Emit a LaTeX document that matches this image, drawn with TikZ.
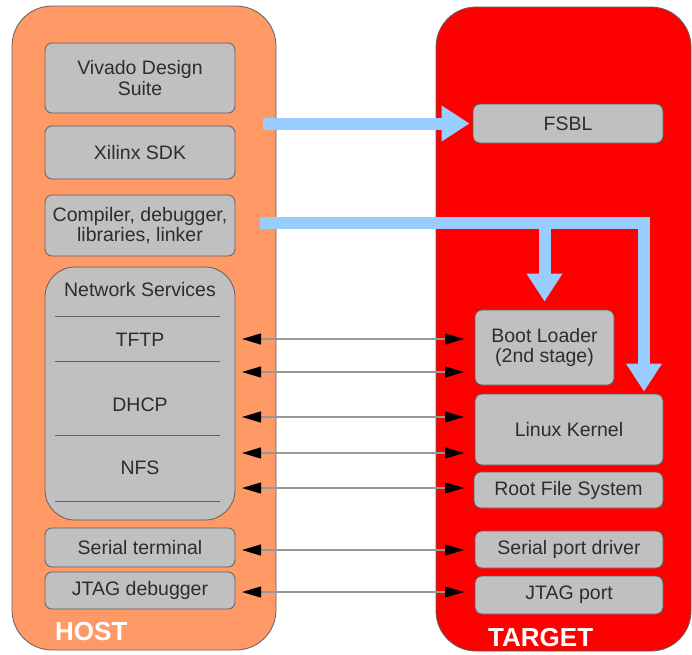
\documentclass[tikz,border=0pt]{standalone}
\usepackage{fontspec}
\setmainfont{Liberation Sans}
\usetikzlibrary{arrows.meta}
\definecolor{hostorange}{RGB}{255,153,102}
\definecolor{targetred}{RGB}{255,0,0}
\definecolor{boxgray}{RGB}{192,192,192}
\definecolor{edgegray}{RGB}{95,95,95}
\definecolor{flowblue}{RGB}{153,204,255}
\definecolor{labelgray}{RGB}{45,45,45}
\definecolor{linkgray}{RGB}{150,150,150}

\begin{document}
\begin{tikzpicture}[x=1pt,y=-1pt,
  every node/.style={font=\fontsize{19.5}{20.5}\selectfont, text=labelgray, inner sep=0pt, align=center},
  panel/.style={draw=edgegray, line width=0.8pt, rounded corners=40pt},
  block/.style={draw=edgegray, fill=boxgray, line width=0.8pt, rounded corners=7pt},
  sidelabel/.style={font=\bfseries\fontsize{26}{26}\selectfont, text=white, anchor=west},
  divider/.style={draw=edgegray, line width=0.8pt},
  flow/.style={draw=flowblue, line width=12pt, line join=miter,
    -{Triangle[length=28pt,width=34pt,color=flowblue]}},
  link/.style={draw=linkgray, line width=1.2pt,
    {Triangle[length=19pt,width=11pt,color=black]}-{Triangle[length=19pt,width=11pt,color=black]}}
]
\useasboundingbox (0,0) rectangle (692,654);

% host and target panels
\node[panel, fill=hostorange, minimum width=264, minimum height=644] (host) at (144,328) {};
\node[panel, fill=targetred, minimum width=255, minimum height=644] (target) at (563.5,329) {};
\node[sidelabel] (hostlbl) at (55,632) {HOST};
\node[sidelabel] (targetlbl) at (488,638) {TARGET};

% host tools
\node[block, minimum width=190, minimum height=70] (vivado) at (140,78) {Vivado Design\\Suite};
\node[block, minimum width=190, minimum height=53] (sdk) at (140,152.5) {Xilinx SDK};
\node[block, minimum width=190, minimum height=61] (comp) at (140,225.5) {Compiler, debugger,\\libraries, linker};
\node[block, rounded corners=30pt, minimum width=190, minimum height=253] (net) at (140,393.5) {};
\node (netlbl) at (140,290) {Network Services};
\node (tftp) at (140,340) {TFTP};
\node (dhcp) at (140,405) {DHCP};
\node (nfs) at (140,468) {NFS};
\draw[divider] (55,316) -- (220,316);
\draw[divider] (55,361) -- (220,361);
\draw[divider] (55,435) -- (220,435);
\draw[divider] (55,501) -- (220,501);
\node[block, minimum width=190, minimum height=39] (serterm) at (140,547.5) {Serial terminal};
\node[block, minimum width=190, minimum height=37] (jtagdbg) at (140,590.5) {JTAG debugger};

% target components
\node[block, minimum width=190, minimum height=39] (fsbl) at (568,123.5) {FSBL};
\node[block, minimum width=139, minimum height=75] (boot) at (544.5,347.5) {Boot Loader\\(2nd stage)};
\node[block, minimum width=188, minimum height=71] (kernel) at (569,429.5) {Linux Kernel};
\node[block, minimum width=189, minimum height=36] (rootfs) at (568.5,490) {Root File System};
\node[block, minimum width=188, minimum height=37] (serdrv) at (569,549.5) {Serial port driver};
\node[block, minimum width=188, minimum height=38] (jtagport) at (569,595) {JTAG port};

% build flow into the target
\coordinate (sdksrc) at (263,123.5);
\coordinate (libsrc) at (260,223);
\coordinate (bend) at (644,223);
\draw[flow, shorten >=3pt] (sdksrc) -- (fsbl.west);
\draw[flow, shorten >=2pt] (libsrc) -- (bend) -- (kernel.north -| bend);
\draw[flow, shorten >=8pt] (boot.north |- libsrc) -- (boot.north);

% host <-> target links
\foreach \i/\y in {1/339, 2/372, 3/417, 4/453, 5/488, 6/550, 7/592} {
  \coordinate (hl\i) at (242,\y);
  \coordinate (tr\i) at (464,\y);
  \draw[link] (hl\i) -- (tr\i);
}
\end{tikzpicture}
\end{document}
